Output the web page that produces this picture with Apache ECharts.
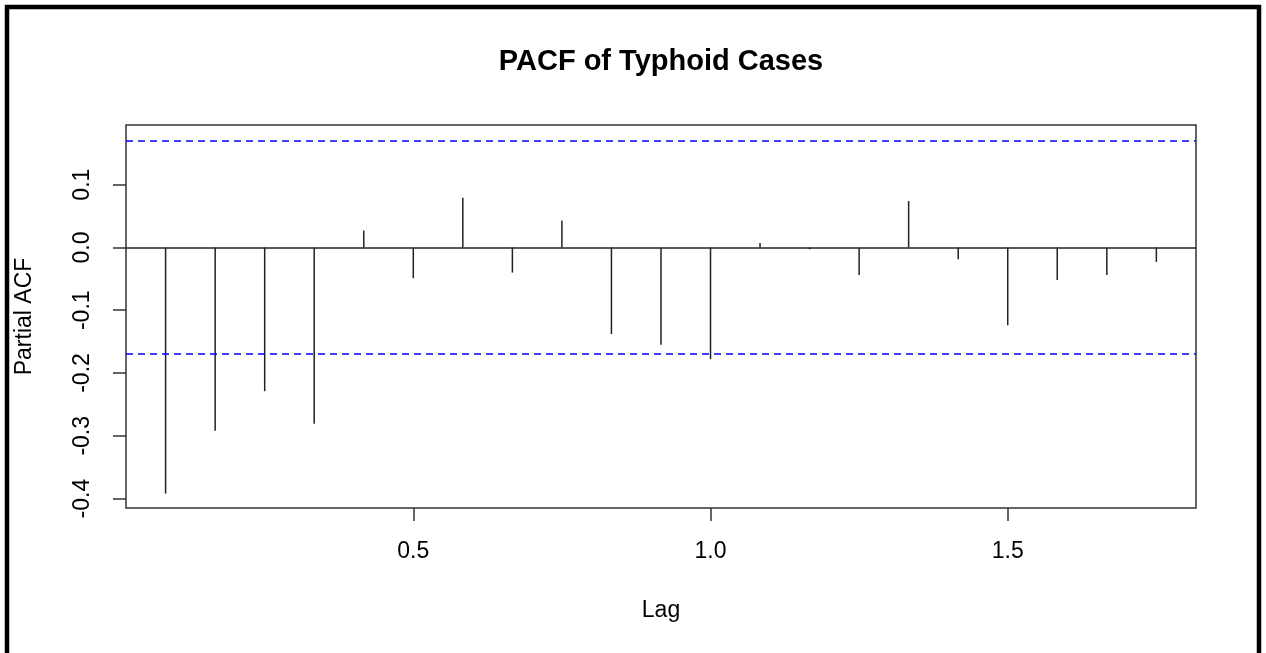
<!DOCTYPE html>
<html>
<head>
<meta charset="utf-8">
<script src="https://cdn.jsdelivr.net/npm/echarts@6/dist/echarts.min.js"></script>
<style>
  html, body { margin: 0; padding: 0; background: #fff; }
  #chart { width: 1266px; height: 653px; }
</style>
</head>
<body>
<div id="chart"></div>
<script>
// lag in years (monthly series, lag k/12)
const lags = [0.0833, 0.1667, 0.25, 0.3333, 0.4167, 0.5, 0.5833, 0.6667, 0.75, 0.8333,
  0.9167, 1.0, 1.0833, 1.1667, 1.25, 1.3333, 1.4167, 1.5, 1.5833, 1.6667, 1.75];
const pacfValues = [-0.392, -0.292, -0.229, -0.281, 0.027, -0.049, 0.079, -0.040, 0.043, -0.138,
  -0.155, -0.178, 0.007, -0.003, -0.044, 0.074, -0.019, -0.124, -0.052, -0.044, -0.023];
const ciBound = 0.172;
const xTicks = [0.5, 1.0, 1.5];
const yTicks = [-0.4, -0.3, -0.2, -0.1, 0.0, 0.1];

const FONT = 'Liberation Sans, Arial, sans-serif';
const chart = echarts.init(document.getElementById('chart'));

chart.setOption({
  animation: false,
  backgroundColor: '#fff',
  graphic: [{
    type: 'rect',
    shape: { x: 7, y: 7, width: 1252, height: 700 },
    style: { fill: 'none', stroke: '#000', lineWidth: 4.5 },
    silent: true
  }],
  title: {
    text: 'PACF of Typhoid Cases',
    left: 656,
    textAlign: 'center',
    top: 42,
    textStyle: { fontFamily: FONT, fontSize: 29, fontWeight: 'bold', color: '#000' }
  },
  grid: {
    left: 126, right: 70, top: 125, bottom: 145,
    show: true, borderColor: '#333', borderWidth: 1.5, backgroundColor: 'transparent'
  },
  xAxis: {
    type: 'value',
    min: 0.0167,
    max: 1.8167,
    name: 'Lag',
    nameLocation: 'middle',
    nameGap: 91,
    nameTextStyle: { fontFamily: FONT, fontSize: 23, color: '#000' },
    axisLine: { show: false, onZero: false },
    splitLine: { show: false },
    axisTick: {
      show: true, customValues: xTicks, length: 13,
      lineStyle: { color: '#333', width: 1.5 }
    },
    axisLabel: {
      customValues: xTicks,
      margin: 32,
      fontFamily: FONT, fontSize: 23, color: '#000',
      formatter: v => v.toFixed(1)
    }
  },
  yAxis: {
    type: 'value',
    min: -0.415,
    max: 0.195,
    name: 'Partial ACF',
    nameLocation: 'middle',
    nameGap: 90,
    nameTextStyle: { fontFamily: FONT, fontSize: 23, color: '#000' },
    axisLine: { show: false, onZero: false },
    splitLine: { show: false },
    axisTick: {
      show: true, customValues: yTicks, length: 13,
      lineStyle: { color: '#333', width: 1.5 }
    },
    axisLabel: {
      customValues: yTicks,
      rotate: 90,
      margin: 32,
      fontFamily: FONT, fontSize: 23, color: '#000',
      formatter: v => v.toFixed(1)
    }
  },
  series: [{
    type: 'custom',
    data: lags.map((lag, i) => [lag, pacfValues[i]]),
    renderItem: (params, api) => {
      const top = api.coord([api.value(0), api.value(1)]);
      const base = api.coord([api.value(0), 0]);
      return {
        type: 'line',
        shape: { x1: base[0], y1: base[1], x2: top[0], y2: top[1] },
        style: { stroke: '#222', lineWidth: 1.5 }
      };
    },
    markLine: {
      silent: true,
      symbol: 'none',
      label: { show: false },
      data: [
        { yAxis: 0, lineStyle: { color: '#222', type: 'solid', width: 1.5 } },
        { yAxis: ciBound, lineStyle: { color: '#0000ff', type: [7, 5], width: 1.5 } },
        { yAxis: -ciBound, lineStyle: { color: '#0000ff', type: [7, 5], width: 1.5 } }
      ]
    }
  }]
});
</script>
</body>
</html>
